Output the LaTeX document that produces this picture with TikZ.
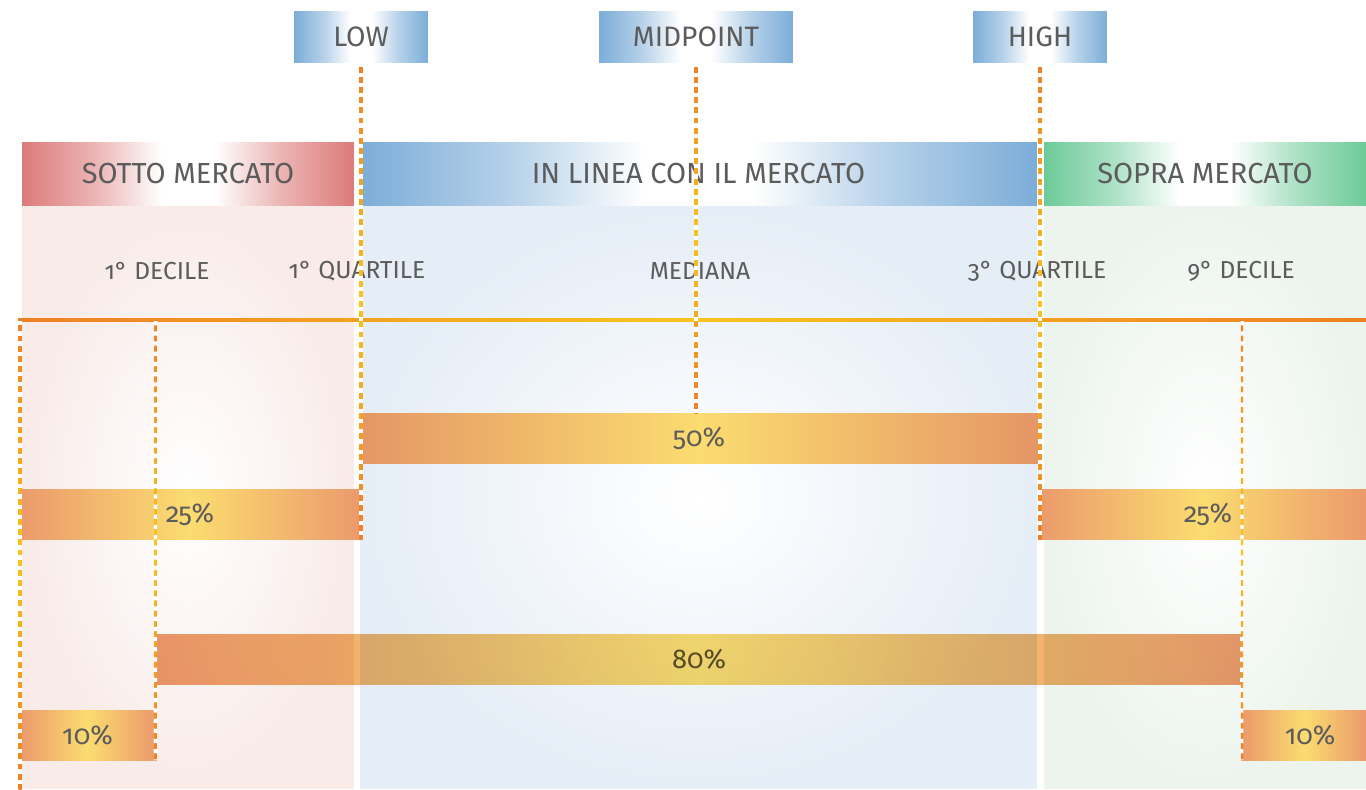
\documentclass[tikz,border=0pt]{standalone}
\usepackage{fontspec}
\setmainfont[Numbers=OldStyle]{Fira Sans}
\usepackage{tikz}
\usetikzlibrary{calc}

\definecolor{txtgray}{HTML}{5C5C5C}
\definecolor{hdrblue}{HTML}{6CA3D3}
\definecolor{hdrred}{HTML}{D96A6A}
\definecolor{hdrgreen}{HTML}{5CC48C}
\definecolor{bgred}{HTML}{F8EBE8}
\definecolor{bgblue}{HTML}{E5EDF6}
\definecolor{bggreen}{HTML}{ECF4ED}
\definecolor{barorange}{HTML}{EB9A6C}
\definecolor{baryellow}{HTML}{FBDC70}
\definecolor{dashorange}{HTML}{EE7F24}
\definecolor{dashyellow}{HTML}{F8C41E}
\colorlet{glowin}{white}
\colorlet{glowout}{hdrblue}
\colorlet{glowmid}{hdrblue!55!white}

\pgfdeclarehorizontalshading[glowin,glowmid,glowout]{glow}{100bp}{color(0bp)=(glowout);
    color(22bp)=(glowout); color(36bp)=(glowmid); color(46bp)=(glowin); color(54bp)=(glowin);
    color(64bp)=(glowmid); color(78bp)=(glowout); color(100bp)=(glowout)}
\tikzset{glow/.code={\colorlet{glowout}{#1}\colorlet{glowmid}{#1!50!white}}}

\begin{document}
\begin{tikzpicture}[x=0.02cm, y=-0.02cm]
\tikzstyle{tag}=[rectangle, shade, shading=glow, glow=hdrblue, text=txtgray,
        minimum height=1.02cm, font=\fontsize{16}{18}\selectfont]
\tikzstyle{band}=[rectangle, shade, shading=glow, minimum height=1.26cm, text=txtgray,
        font=\fontsize{16.5}{18}\selectfont]
\tikzstyle{column}=[rectangle, inner color=white, minimum height=11.68cm]
\tikzstyle{quant}=[text=txtgray, font=\fontsize{14}{16}\selectfont]
\tikzstyle{pct}=[text=txtgray, font=\fontsize{15.5}{18}\selectfont]
\tikzstyle{bar}=[rectangle, left color=barorange, right color=barorange, middle color=baryellow,
        minimum height=1.0cm, pct]
\tikzstyle{guide}=[shade, top color=dashorange, bottom color=dashorange, middle color=dashyellow]
\tikzstyle{gap}=[white, line width=1.9pt, dash pattern=on 2.4pt off 3.4pt]

\def \hy {173.5}
\def \qy {271}
\def \w {1.5}

\useasboundingbox (0,0) rectangle (1366,789);

    \node (lowcol) [column, outer color=bgred, minimum width=6.64cm] at (188,497){};
    \node (midcol) [column, outer color=bgblue, minimum width=13.54cm] at (698.5,497){};
    \node (highcol) [column, outer color=bggreen, minimum width=6.44cm] at (1205,497){};

    \node (sotto) [band, glow=hdrred, minimum width=6.64cm] at (188,\hy){SOTTO MERCATO};
    \node (inlinea) [band, glow=hdrblue, minimum width=13.54cm] at (698.5,\hy){IN LINEA CON IL MERCATO};
    \node (sopra) [band, glow=hdrgreen, minimum width=6.44cm] at (1205,\hy){SOPRA MERCATO};

    \node (low) [tag, minimum width=2.68cm] at (361,36.5){LOW};
    \node (mid) [tag, minimum width=3.88cm] at (696,36.5){MIDPOINT};
    \node (high) [tag, minimum width=2.68cm] at (1040,36.5){HIGH};

    \node (dec1) [quant] at (157,\qy){1° DECILE};
    \node (qrt1) [quant] at (357,\qy){1° QUARTILE};
    \node (med) [quant] at (700,\qy){MEDIANA};
    \node (qrt3) [quant] at (1037,\qy){3° QUARTILE};
    \node (dec9) [quant] at (1241,\qy){9° DECILE};

    \node (b50) [bar, left color=barorange!85!brown, right color=barorange!85!brown, middle color=baryellow,
        minimum width=13.56cm] at (699,438.5){50\%};
    \node (b25l) [bar, minimum width=6.8cm] at (190,514){25\%};
    \node (b25r) [bar, minimum width=6.56cm] at (1202,514){};
    \node (t25r) [pct] at (1208,514){25\%};
    \node (b80) [bar, minimum width=21.72cm, blend mode=multiply] at (699,659){80\%};
    \node (b10l) [bar, minimum width=2.7cm] at (87.5,735){10\%};
    \node (b10r) [bar, minimum width=2.48cm] at (1304,735){};
    \node (t10r) [pct] at (1310,735){10\%};

\coordinate (hl) at (18,320);
\coordinate (hr) at (1366,320);
\coordinate (bot) at (20,789);

\shade[left color=dashorange, right color=dashorange, middle color=dashyellow]
    ($(hl)+(0,-1.1)$) rectangle ($(hr)+(0,1.1)$);

\shade[guide] ($(low.south)+(-\w,0)$) rectangle ($(low.south |- b25l.south)+(\w,0)$);
\shade[guide] ($(mid.south)+(-\w,0)$) rectangle ($(mid.south |- b50.north)+(\w,0)$);
\shade[guide] ($(high.south)+(-\w,0)$) rectangle ($(high.south |- b25r.south)+(\w,0)$);
\shade[guide] ($(hl -| bot)+(-\w,0)$) rectangle ($(bot)+(\w,0)$);
\shade[guide] ($(hl -| b80.west)+(-\w,0)$) rectangle ($(b10l.south east)+(\w,0)$);
\shade[guide] ($(hl -| b80.east)+(-\w,0)$) rectangle ($(b10r.south west)+(\w,0)$);

\draw[gap] (low.south) -- (low.south |- b25l.south);
\draw[gap] (mid.south) -- (mid.south |- b50.north);
\draw[gap] (high.south) -- (high.south |- b25r.south);
\draw[gap] ($(hl -| bot)+(0,1.1)$) -- (bot);
\draw[gap] ($(hl -| b80.west)+(0,1.1)$) -- (b10l.south east);
\draw[gap] ($(hl -| b80.east)+(0,1.1)$) -- (b10r.south west);

\end{tikzpicture}
\end{document}
